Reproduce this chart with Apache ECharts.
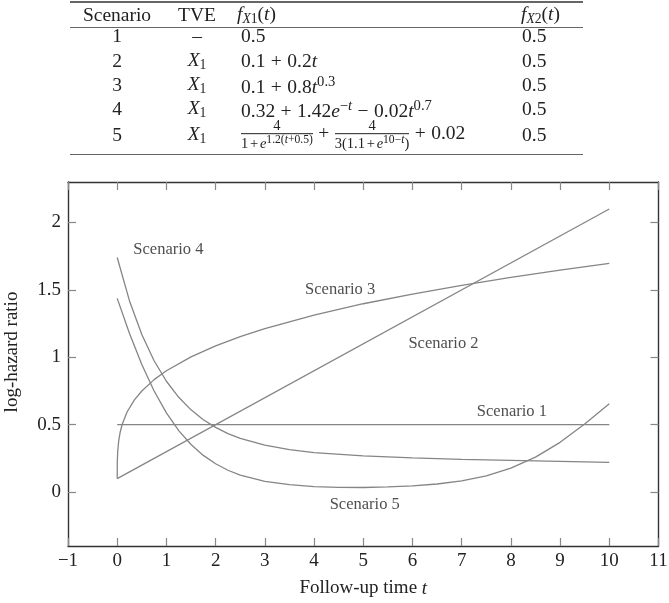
<!DOCTYPE html>
<html>
<head>
<meta charset="utf-8">
<script src="https://cdn.jsdelivr.net/npm/echarts@6/dist/echarts.min.js"></script>
<style>
  html, body { margin: 0; padding: 0; background: #fff; }
  #chart { position: absolute; left: 0; top: 0; width: 669px; height: 603px; }
  #tbl { position: absolute; left: 0; top: 0; width: 669px; height: 165px; z-index: 2;
         font-family: "Liberation Serif", serif; font-size: 19.5px; color: #222; pointer-events: none; }
  .rule { position: absolute; left: 70px; width: 513px; background: #666; }
  .cell { position: absolute; white-space: nowrap; line-height: 1; transform: translateY(-50%); }
  .c { transform: translate(-50%, -50%); }
  .sub { font-size: 0.7em; vertical-align: -0.25em; }
  .sup { font-size: 0.75em; vertical-align: 0.5em; }
  .op { margin: 0 0.28em; }
  .frac { display: inline-block; vertical-align: middle; text-align: center; font-size: 14.5px; line-height: 1.05; }
  .frac .sup { font-size: 0.8em; vertical-align: 0.45em; }
  .frac .iop { margin: 0 0.12em; }
  .frac .num { display: block; border-bottom: 1px solid #222; padding: 0 1px; }
  .frac .den { display: block; }
</style>
</head>
<body>
<div id="tbl"></div>
<div id="chart"></div>
<script>
// table
const tblScenario = ["1", "2", "3", "4", "5"];
const tblTVE = ["–", "X1", "X1", "X1", "X1"];
const tblFX1 = [
  "0.5",
  "0.1<span class='op'>+</span>0.2<i>t</i>",
  "0.1<span class='op'>+</span>0.8<i>t</i><span class='sup'>0.3</span>",
  "0.32<span class='op'>+</span>1.42<i>e</i><span class='sup'>−<i>t</i></span><span class='op'>−</span>0.02<i>t</i><span class='sup'>0.7</span>",
  "<span class='frac'><span class='num'>4</span><span class='den'>1<span class='iop'>+</span><i>e</i><span class='sup'>1.2(<i>t</i>+0.5)</span></span></span>" +
    "<span class='op'>+</span>" +
    "<span class='frac'><span class='num'>4</span><span class='den'>3(1.1<span class='iop'>+</span><i>e</i><span class='sup'>10−<i>t</i></span>)</span></span>" +
    "<span class='op'>+</span>0.02"
];
const tblFX2 = ["0.5", "0.5", "0.5", "0.5", "0.5"];

// curves (t, log-hazard ratio)
const s1T = [0, 10];
const s1Y = [0.5, 0.5];
const s2T = [0, 10];
const s2Y = [0.1, 2.1];
const s3T = [0, 0.002, 0.01, 0.03, 0.06, 0.1, 0.2, 0.35, 0.5, 0.75, 1, 1.5, 2, 2.5, 3, 4, 5, 6, 7, 8, 9, 10];
const s3Y = [0.1, 0.224, 0.301, 0.379, 0.444, 0.501, 0.594, 0.684, 0.75, 0.834, 0.9, 1.003, 1.085, 1.153, 1.212, 1.313, 1.397, 1.469, 1.534, 1.593, 1.647, 1.696];
const s4T = [0, 0.25, 0.5, 0.75, 1, 1.25, 1.5, 1.75, 2, 2.25, 2.5, 3, 3.5, 4, 5, 6, 7, 8, 9, 10];
const s4Y = [1.74, 1.418, 1.169, 0.974, 0.822, 0.703, 0.61, 0.537, 0.48, 0.434, 0.399, 0.348, 0.315, 0.293, 0.268, 0.253, 0.243, 0.235, 0.227, 0.22];
const s5T = [0, 0.25, 0.5, 0.75, 1, 1.25, 1.5, 1.75, 2, 2.25, 2.5, 3, 3.5, 4, 4.5, 5, 5.5, 6, 6.5, 7, 7.5, 8, 8.5, 9, 9.5, 10];
const s5Y = [1.437, 1.176, 0.946, 0.75, 0.587, 0.456, 0.353, 0.272, 0.21, 0.162, 0.126, 0.08, 0.055, 0.041, 0.035, 0.034, 0.038, 0.046, 0.06, 0.083, 0.121, 0.177, 0.259, 0.369, 0.505, 0.655];

const labelText = ["Scenario 1", "Scenario 2", "Scenario 3", "Scenario 4", "Scenario 5"];
const labelT = [8.02, 6.63, 4.53, 1.04, 5.03];
const labelY = [0.595, 1.098, 1.5, 1.797, -0.091];

const yTicks = [0, 0.5, 1, 1.5, 2];

// build table
const tbl = document.getElementById("tbl");
const rowY = [36, 61, 85, 109, 135];
function addCell(html, x, y, centered) {
  const d = document.createElement("div");
  d.className = centered ? "cell c" : "cell";
  d.style.left = x + "px";
  d.style.top = y + "px";
  d.innerHTML = html;
  tbl.appendChild(d);
}
function addRule(y, h) {
  const r = document.createElement("div");
  r.className = "rule";
  r.style.top = y + "px";
  r.style.height = h + "px";
  tbl.appendChild(r);
}
addRule(1, 1.6);
addRule(26.5, 1);
addRule(153.5, 1.6);
addCell("Scenario", 117, 15, true);
addCell("TVE", 197, 15, true);
addCell("<i>f</i><span class='sub'><i>X</i>1</span>(<i>t</i>)", 237, 15, false);
addCell("<i>f</i><span class='sub'><i>X</i>2</span>(<i>t</i>)", 521, 15, false);
tblScenario.forEach((s, i) => {
  addCell(s, 117, rowY[i], true);
  const tve = tblTVE[i] === "X1" ? "<i>X</i><span class='sub'>1</span>" : tblTVE[i];
  addCell(tve, 197, rowY[i], true);
  addCell(tblFX1[i], 241, rowY[i], false);
  addCell(tblFX2[i], 522, rowY[i], false);
});

// chart
const chart = echarts.init(document.getElementById("chart"));
const font = "Liberation Serif";
const zip = (a, b) => a.map((v, i) => [v, b[i]]);
const curves = [zip(s1T, s1Y), zip(s2T, s2Y), zip(s3T, s3Y), zip(s4T, s4Y), zip(s5T, s5Y)];

const axisLine = { show: true, onZero: false, lineStyle: { color: "#333", width: 1.4 } };
const axisTick = { show: true, inside: true, length: 8, lineStyle: { color: "#888", width: 1.2 } };

const option = {
  animation: false,
  grid: { left: 68, right: 10.5, top: 182, bottom: 57, outerBoundsMode: "none" },
  xAxis: [
    {
      type: "value",
      min: -1,
      max: 11,
      interval: 1,
      axisLine: axisLine,
      axisTick: axisTick,
      splitLine: { show: false },
      axisLabel: {
        fontFamily: font,
        fontSize: 19,
        color: "#222",
        margin: 6,
        formatter: (v) => String(v).replace("-", "−"),
      },
      name: "{a|Follow-up time }{i|t}",
      nameLocation: "middle",
      nameGap: 33,
      nameTextStyle: {
        rich: {
          a: { fontFamily: font, fontSize: 19, color: "#222" },
          i: { fontFamily: font, fontSize: 19, color: "#222", fontStyle: "italic" },
        },
      },
    },
    {
      type: "value",
      position: "top",
      min: -1,
      max: 11,
      interval: 1,
      axisLine: axisLine,
      axisTick: axisTick,
      axisLabel: { show: false },
      splitLine: { show: false },
    },
  ],
  yAxis: [
    {
      type: "value",
      min: -0.4,
      max: 2.3,
      axisLine: axisLine,
      axisTick: Object.assign({ customValues: yTicks }, axisTick),
      splitLine: { show: false },
      axisLabel: {
        customValues: yTicks,
        fontFamily: font,
        fontSize: 19,
        color: "#222",
        margin: 7,
      },
      name: "log-hazard ratio",
      nameLocation: "middle",
      nameGap: 46,
      nameTextStyle: { fontFamily: font, fontSize: 19, color: "#222", padding: [0, 0, 0, 24] },
    },
    {
      type: "value",
      position: "right",
      min: -0.4,
      max: 2.3,
      axisLine: axisLine,
      axisTick: Object.assign({ customValues: yTicks }, axisTick),
      axisLabel: { show: false },
      splitLine: { show: false },
    },
  ],
  series: curves
    .map((d, i) => ({
      name: labelText[i],
      type: "line",
      data: d,
      showSymbol: false,
      smooth: false,
      lineStyle: { color: "#858585", width: 1.3 },
      z: 2,
    }))
    .concat([
      {
        type: "scatter",
        symbolSize: 0,
        data: labelText.map((s, i) => [labelT[i], labelY[i], s]),
        label: {
          show: true,
          position: "inside",
          formatter: (p) => p.data[2],
          fontFamily: font,
          fontSize: 16.5,
          color: "#222",
        },
        z: 3,
      },
    ]),
};

chart.setOption(option);
</script>
</body>
</html>
